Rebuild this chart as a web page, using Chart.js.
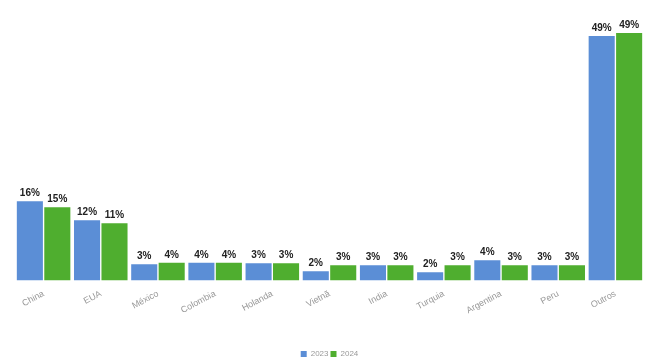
<!DOCTYPE html>
<html>
<head>
<meta charset="utf-8">
<script src="https://cdn.jsdelivr.net/npm/chart.js@4"></script>
<style>
  html, body { margin: 0; padding: 0; background: #fff; }
  #wrap { width: 646px; height: 360px; }
</style>
</head>
<body>
<div id="wrap"><canvas id="grafico" width="646" height="360"></canvas></div>
<script>
// paises e participacao (%) por ano
const paises = ['China', 'EUA', 'México', 'Colombia', 'Holanda', 'Vietnã', 'India', 'Turquia', 'Argentina', 'Peru', 'Outros'];
const valores2023 = [15.8, 12.0, 3.2, 3.5, 3.4, 1.8, 3.0, 1.6, 4.0, 3.0, 48.8];
const valores2024 = [14.6, 11.4, 3.5, 3.5, 3.4, 3.0, 3.0, 3.0, 3.0, 3.0, 49.4];

const azul = '#5b8ed6';
const verde = '#4fae2f';

// rotulos de valor em cima das barras
const rotulos = {
  id: 'rotulos',
  afterDatasetsDraw(chart) {
    const ctx = chart.ctx;
    ctx.save();
    ctx.font = 'bold 10px "Liberation Sans", Arial, sans-serif';
    ctx.fillStyle = '#222';
    ctx.textAlign = 'center';
    ctx.textBaseline = 'bottom';
    chart.data.datasets.forEach((ds, i) => {
      chart.getDatasetMeta(i).data.forEach((bar, j) => {
        ctx.fillText(Math.round(ds.data[j]) + '%', bar.x, bar.y - 3);
      });
    });
    ctx.restore();
  }
};

new Chart(document.getElementById('grafico'), {
  type: 'bar',
  data: {
    labels: paises,
    datasets: [
      { label: '2023', data: valores2023, backgroundColor: azul, categoryPercentage: 0.96, barPercentage: 0.95 },
      { label: '2024', data: valores2024, backgroundColor: verde, categoryPercentage: 0.96, barPercentage: 0.95 }
    ]
  },
  options: {
    responsive: false,
    animation: false,
    layout: { padding: { left: 15, right: 2, top: 0, bottom: -8 } },
    scales: {
      x: {
        grid: { display: false },
        border: { display: false },
        ticks: {
          color: '#999',
          font: { size: 9, family: '"Liberation Sans", Arial, sans-serif' },
          maxRotation: 28,
          minRotation: 28,
          padding: 0
        },
        afterFit(scale) { scale.height += 32; }
      },
      y: {
        display: false,
        min: 0,
        max: 56
      }
    },
    plugins: {
      legend: {
        position: 'bottom',
        labels: {
          boxWidth: 6,
          boxHeight: 6,
          padding: 2,
          color: '#999',
          font: { size: 8, family: '"Liberation Sans", Arial, sans-serif' }
        }
      },
      tooltip: { enabled: false }
    }
  },
  plugins: [rotulos]
});
</script>
</body>
</html>
